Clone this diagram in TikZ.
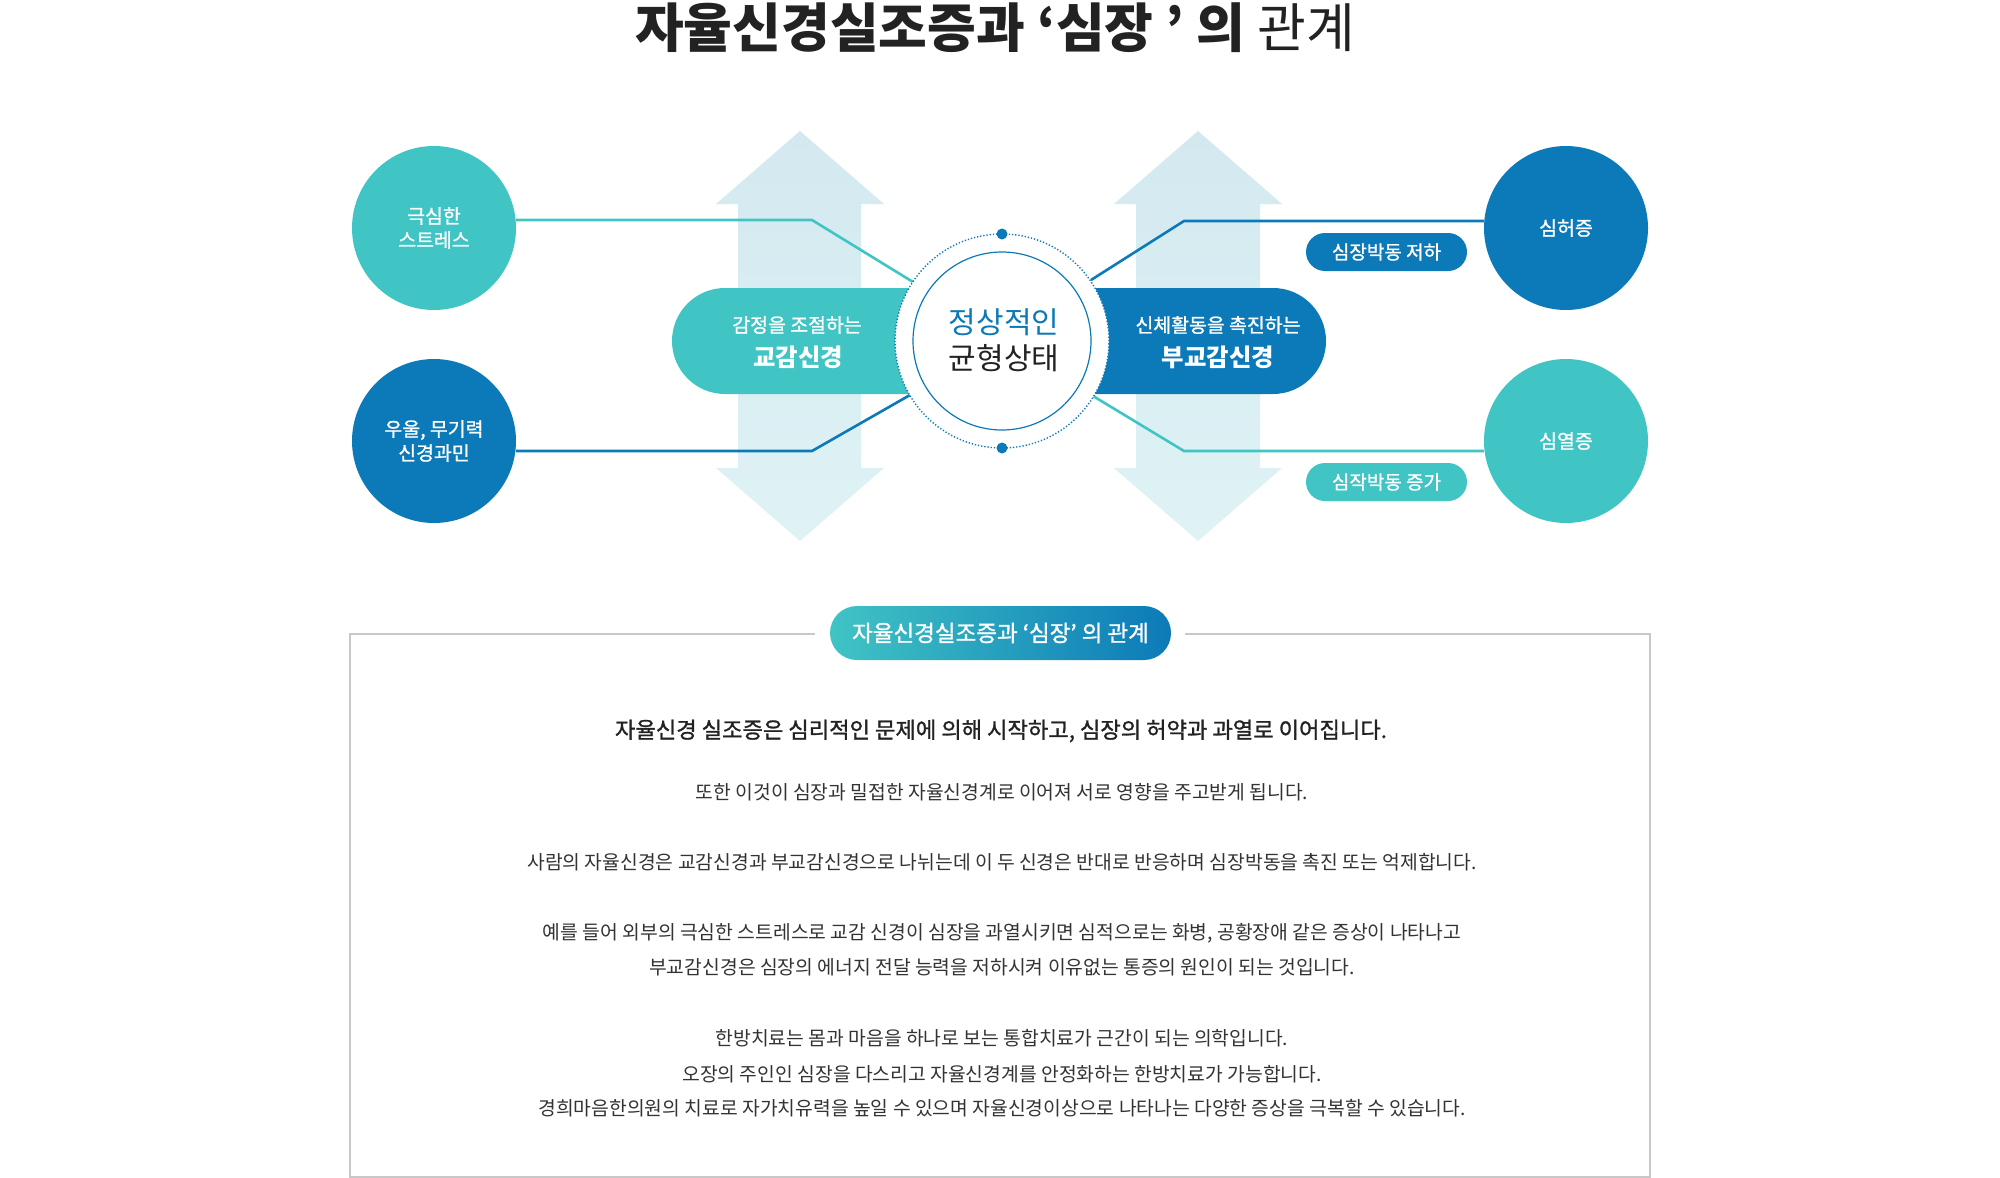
\documentclass[tikz,border=0pt]{standalone}
\usepackage{fontspec}
\newfontfamily\kr{Noto Sans CJK KR}
\newfontfamily\krm[FakeBold=1.2]{Noto Sans CJK KR}
\definecolor{tealc}{RGB}{64,196,196}
\definecolor{bluec}{RGB}{12,122,184}
\definecolor{arrtop}{RGB}{211,233,240}
\definecolor{arrbot}{RGB}{223,243,245}
\definecolor{titlec}{RGB}{34,34,34}
\definecolor{bodyc}{RGB}{51,51,51}
\definecolor{boxc}{RGB}{200,200,200}
\begin{document}
\begin{tikzpicture}[x=1pt,y=-1pt,
  bigc/.style={circle, minimum size=164pt, inner sep=0pt, text=white, align=center,
    font=\krm\fontsize{19.4}{24}\selectfont},
  conn/.style={line width=2.6pt},
  smallpill/.style={rounded corners=19pt, minimum width=161pt, minimum height=38pt,
    inner sep=0pt, text=white, font=\krm\fontsize{19}{22}\selectfont},
  pilltop/.style={text=white, inner sep=0pt, font=\krm\fontsize{19.4}{22}\selectfont},
  pillbig/.style={text=white, inner sep=0pt, font=\kr\bfseries\fontsize{24.4}{28}\selectfont},
  bodyline/.style={text=bodyc, inner sep=0pt, font=\kr\fontsize{19.3}{22}\selectfont},
  arrowshape/.style={top color=arrtop, bottom color=arrbot, draw=none}
]
\useasboundingbox (0,0) rectangle (2000,1178);
\fill[white] (0,0) rectangle (2000,1178);

% title
\node[anchor=base, text=titlec, inner sep=0pt, font=\kr\fontsize{53}{60}\selectfont] (title) at (995,47)
  {\bfseries 자율신경실조증과 ‘심장 ’ 의 {\mdseries 관계}};

% double arrows
\shade[arrowshape] (800,131) -- (884,204) -- (861,204) -- (861,468) -- (884,468) -- (800,541)
  -- (716,468) -- (738,468) -- (738,204) -- (716,204) -- cycle;
\shade[arrowshape] (1198,131) -- (1282,204) -- (1260,204) -- (1260,468) -- (1282,468) -- (1198,541)
  -- (1114,468) -- (1136,468) -- (1136,204) -- (1114,204) -- cycle;

% outer circles
\node[bigc, fill=tealc] (c1) at (434,228) {극심한\\스트레스};
\node[bigc, fill=bluec] (c2) at (434,441) {우울, 무기력\\신경과민};
\node[bigc, fill=bluec] (c3) at (1566,228) {심허증};
\node[bigc, fill=tealc] (c4) at (1566,441) {심열증};

% centre anchor points
\coordinate (ctr) at (1002,341);
\coordinate (e1) at (913,282);
\coordinate (e2) at (910,395);
\coordinate (e3) at (1091,280);
\coordinate (e4) at (1093,396);
\coordinate (k1) at (812,220);
\coordinate (k2) at (812,451);
\coordinate (k3) at (1184,221);
\coordinate (k4) at (1184,451);

% connectors
\draw[conn, tealc] ([yshift=8pt]c1.east) -- (k1) -- (e1);
\draw[conn, bluec] ([yshift=-10pt]c2.east) -- (k2) -- (e2);
\draw[conn, bluec] ([yshift=7pt]c3.west) -- (k3) -- (e3);
\draw[conn, tealc] ([yshift=-10pt]c4.west) -- (k4) -- (e4);

% pills
\fill[tealc, rounded corners=53pt] (672,288) rectangle (1010,394);
\fill[bluec, rounded corners=53pt] (994,288) rectangle (1326,394);
\node[pilltop] (p1a) at (797,325) {감정을 조절하는};
\node[pillbig] (p1b) at (798,357) {교감신경};
\node[pilltop] (p2a) at (1218,325) {신체활동을 촉진하는};
\node[pillbig] (p2b) at (1218,357) {부교감신경};

% small pills
\node[smallpill, fill=bluec] (s1) at (1386.5,252) {심장박동 저하};
\node[smallpill, fill=tealc] (s2) at (1386.5,482) {심작박동 증가};

% centre circle
\fill[white] (ctr) circle[radius=107pt];
\draw[bluec, line width=1.4pt, dash pattern=on 1.3pt off 1.9pt] (ctr) circle[radius=107pt];
\draw[bluec, line width=1.2pt] (ctr) circle[radius=89pt];
\fill[bluec] (1002,234) circle[radius=5.5pt];
\fill[bluec] (1002,448) circle[radius=5.5pt];
\node[inner sep=0pt, text=bluec, font=\kr\fontsize{30}{34}\selectfont] (n1) at (1004,322) {정상적인};
\node[inner sep=0pt, text=titlec, font=\kr\fontsize{30}{34}\selectfont] (n2) at (1004,358) {균형상태};

% bottom box
\draw[boxc, line width=1.5pt] (815,634) -- (350,634) -- (350,1177) -- (1650,1177) -- (1650,634) -- (1185,634);
\node[rounded corners=27pt, minimum width=341pt, minimum height=54pt, inner sep=0pt,
  left color=tealc, right color=bluec, text=white, font=\krm\fontsize{22.5}{26}\selectfont] (hdr) at (1000.5,633)
  {자율신경실조증과 ‘심장’ 의 관계};

\node[inner sep=0pt, text=titlec, font=\krm\fontsize{22.2}{26}\selectfont] (l1) at (1001,731)
  {자율신경 실조증은 심리적인 문제에 의해 시작하고, 심장의 허약과 과열로 이어집니다.};
\node[bodyline] (l2) at (1002,792) {또한 이것이 심장과 밀접한 자율신경계로 이어져 서로 영향을 주고받게 됩니다.};
\node[bodyline] (l3) at (1002,862) {사람의 자율신경은 교감신경과 부교감신경으로 나뉘는데 이 두 신경은 반대로 반응하며 심장박동을 촉진 또는 억제합니다.};
\node[bodyline] (l4) at (1002,933) {예를 들어 외부의 극심한 스트레스로 교감 신경이 심장을 과열시키면 심적으로는 화병, 공황장애 같은 증상이 나타나고};
\node[bodyline] (l5) at (1002,967) {부교감신경은 심장의 에너지 전달 능력을 저하시켜 이유없는 통증의 원인이 되는 것입니다.};
\node[bodyline] (l6) at (1002,1038) {한방치료는 몸과 마음을 하나로 보는 통합치료가 근간이 되는 의학입니다.};
\node[bodyline] (l7) at (1002,1074) {오장의 주인인 심장을 다스리고 자율신경계를 안정화하는 한방치료가 가능합니다.};
\node[bodyline] (l8) at (1002,1108) {경희마음한의원의 치료로 자가치유력을 높일 수 있으며 자율신경이상으로 나타나는 다양한 증상을 극복할 수 있습니다.};
\end{tikzpicture}
\end{document}
